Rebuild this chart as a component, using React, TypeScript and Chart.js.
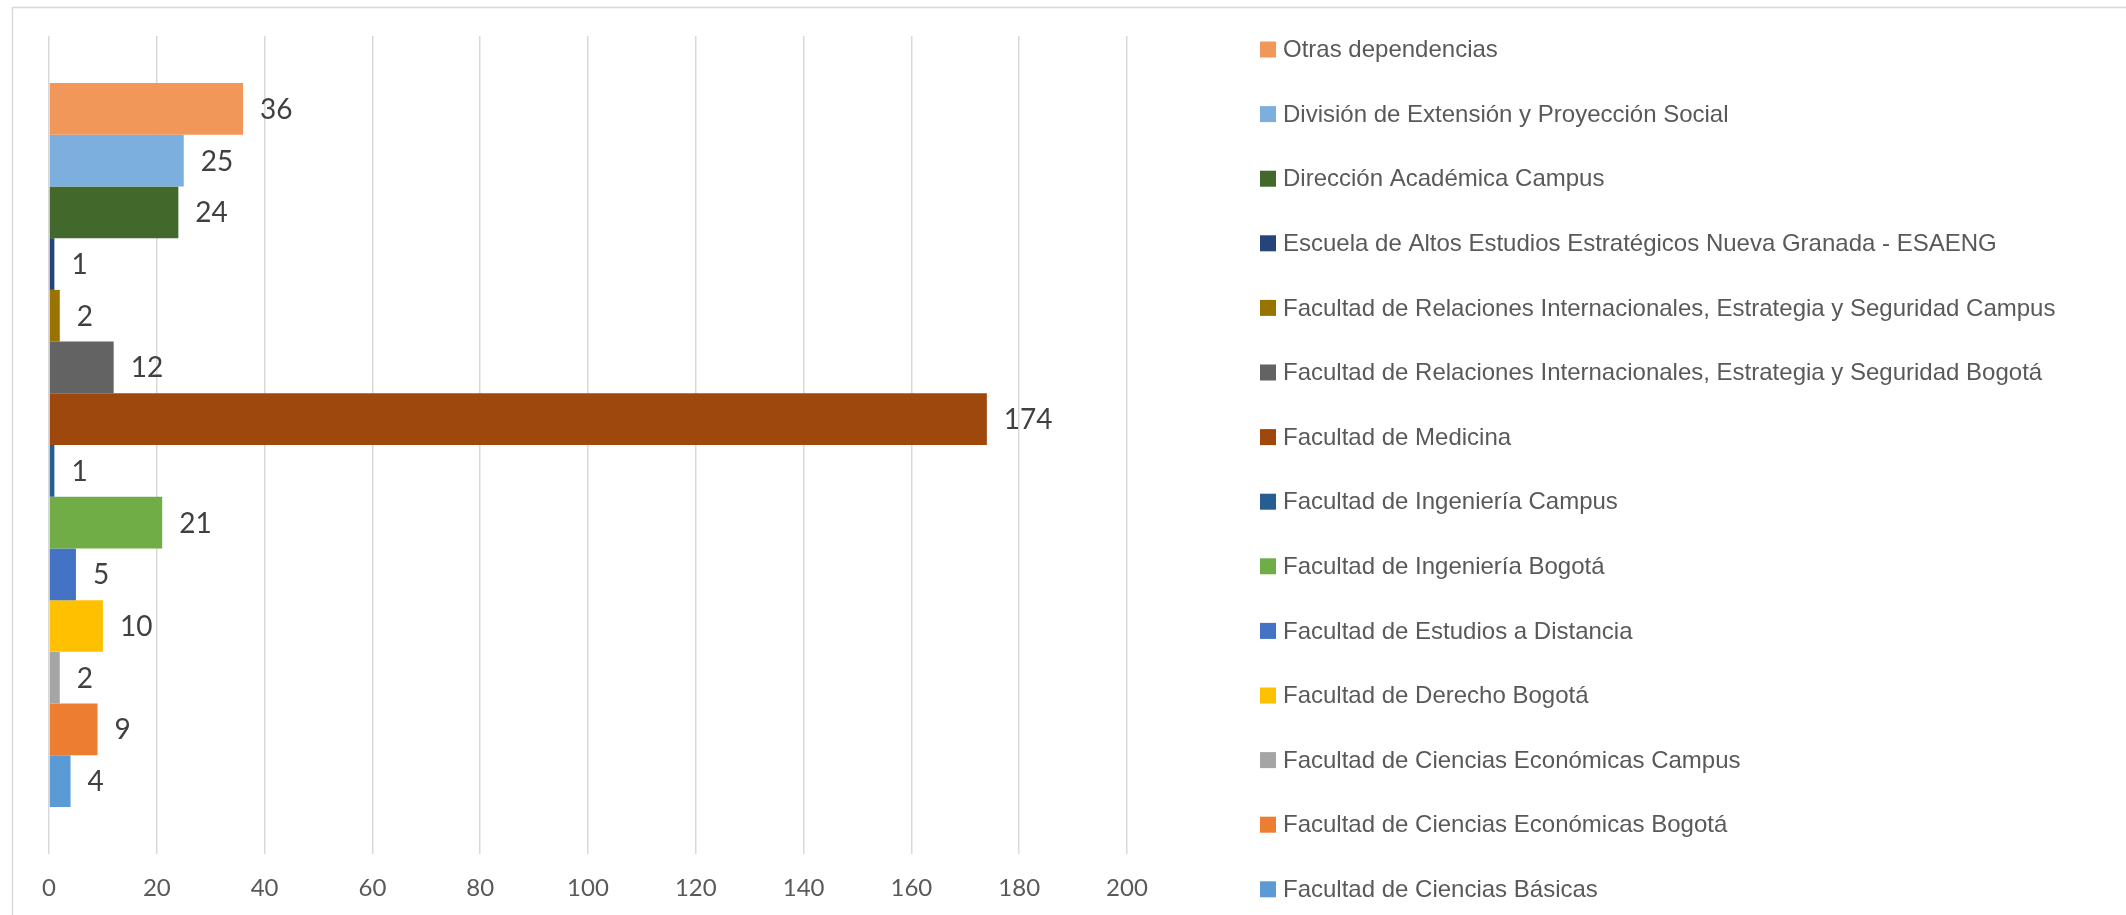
import React, { useEffect, useRef } from "react";
import { Chart, registerables } from "chart.js";

Chart.register(...registerables);

// ---- Data ----
const categories = [""];

const seriesNames = [
  "Otras dependencias",
  "División de Extensión y Proyección Social",
  "Dirección Académica Campus",
  "Escuela de Altos Estudios Estratégicos Nueva Granada - ESAENG",
  "Facultad de Relaciones Internacionales, Estrategia y Seguridad Campus",
  "Facultad de Relaciones Internacionales, Estrategia y Seguridad Bogotá",
  "Facultad de Medicina",
  "Facultad de Ingeniería Campus",
  "Facultad de Ingeniería Bogotá",
  "Facultad de Estudios a Distancia",
  "Facultad de Derecho Bogotá",
  "Facultad de Ciencias Económicas Campus",
  "Facultad de Ciencias Económicas Bogotá",
  "Facultad de Ciencias Básicas",
];

const seriesValues = [36, 25, 24, 1, 2, 12, 174, 1, 21, 5, 10, 2, 9, 4];

const seriesColors = [
  "#F1975A",
  "#7CAFDD",
  "#43682B",
  "#264478",
  "#997300",
  "#636363",
  "#9E480E",
  "#255E91",
  "#70AD47",
  "#4472C4",
  "#FFC000",
  "#A5A5A5",
  "#ED7D31",
  "#5B9BD5",
];

const xTickValues = [0, 20, 40, 60, 80, 100, 120, 140, 160, 180, 200];

// ---- Plugins ----
const framePlugin = {
  id: "frame",
  beforeDraw(chart: any) {
    const { ctx, width, height } = chart;
    ctx.save();
    ctx.fillStyle = "#ffffff";
    ctx.fillRect(0, 0, width, height);
    ctx.strokeStyle = "#d9d9d9";
    ctx.lineWidth = 1.5;
    ctx.beginPath();
    ctx.moveTo(12.5, height);
    ctx.lineTo(12.5, 7.5);
    ctx.lineTo(width, 7.5);
    ctx.stroke();
    ctx.restore();
  },
};

const valueLabelPlugin = {
  id: "valueLabels",
  afterDatasetsDraw(chart: any) {
    const ctx = chart.ctx;
    ctx.save();
    ctx.font = "28px Lato";
    ctx.fillStyle = "#404040";
    ctx.textAlign = "left";
    ctx.textBaseline = "middle";
    chart.data.datasets.forEach((ds: any, i: number) => {
      const meta = chart.getDatasetMeta(i);
      meta.data.forEach((el: any, j: number) => {
        ctx.fillText(String(ds.data[j]), el.x + 17, el.y + 1);
      });
    });
    ctx.restore();
  },
};

const sideLegendPlugin = {
  id: "sideLegend",
  afterDraw(chart: any) {
    const ctx = chart.ctx;
    const x0 = 1260;
    const y0 = 49.5;
    const step = 64.6;
    ctx.save();
    ctx.font = "24px 'Liberation Sans', Arial, sans-serif";
    ctx.textAlign = "left";
    ctx.textBaseline = "middle";
    chart.data.datasets.forEach((ds: any, i: number) => {
      const cy = y0 + i * step;
      ctx.fillStyle = ds.backgroundColor;
      ctx.fillRect(x0, cy - 8, 16, 16);
      ctx.fillStyle = "#595959";
      ctx.fillText(ds.label, x0 + 23, cy + 1);
    });
    ctx.restore();
  },
};

export default function App() {
  const canvasRef = useRef<HTMLCanvasElement | null>(null);

  useEffect(() => {
    if (!canvasRef.current) return;
    const chart = new Chart(canvasRef.current, {
      type: "bar",
      data: {
        labels: categories,
        datasets: seriesNames.map((name, i) => ({
          label: name,
          data: [seriesValues[i]],
          backgroundColor: seriesColors[i],
          borderWidth: 0,
          categoryPercentage: 0.885,
          barPercentage: 1.0,
        })),
      },
      options: {
        indexAxis: "y",
        animation: false,
        responsive: true,
        maintainAspectRatio: false,
        devicePixelRatio: 1,
        layout: {
          padding: { top: 36, left: 49, right: 999, bottom: 13 },
        },
        plugins: {
          legend: { display: false },
          tooltip: { enabled: false },
          title: { display: false },
        },
        scales: {
          x: {
            type: "linear",
            min: xTickValues[0],
            max: xTickValues[xTickValues.length - 1],
            afterBuildTicks: (scale: any) => {
              scale.ticks = xTickValues.map((v) => ({ value: v }));
            },
            afterFit: (scale: any) => {
              scale.height = 48;
            },
            grid: {
              color: "#d9d9d9",
              lineWidth: 1.5,
              drawTicks: false,
            },
            border: { display: false },
            ticks: {
              padding: 20,
              color: "#595959",
              font: { family: "Lato", size: 24 },
            },
          },
          y: {
            display: false,
          },
        },
      },
      plugins: [framePlugin, valueLabelPlugin, sideLegendPlugin],
    });
    return () => chart.destroy();
  }, []);

  return (
    <div
      style={{
        position: "absolute",
        left: 0,
        top: 0,
        width: "2126px",
        height: "915px",
        background: "#ffffff",
      }}
    >
      <canvas ref={canvasRef} />
    </div>
  );
}
